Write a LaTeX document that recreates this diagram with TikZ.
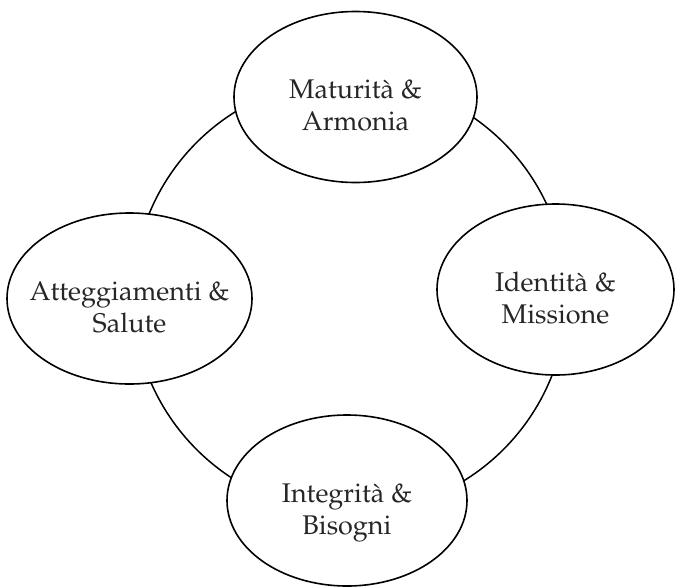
\documentclass[tikz,border=0pt]{standalone}
\usepackage[T1]{fontenc}
\usepackage{mathpazo}
\usetikzlibrary{shapes.geometric}

\tikzset{
	phasetext/.style={align=center, text=black!85, font=\fontsize{27}{31.7}\selectfont, yshift=-11.5pt},
	phase/.style={draw, ellipse, fill=white, line width=1.6pt, inner sep=0pt,
		minimum width=243pt, minimum height=171pt,
		label={[phasetext]center:\strut#1\strut}},
	ring/.style={line width=1.5pt},
}

\begin{document}
\begin{tikzpicture}[x=1pt, y=-1pt]
		\useasboundingbox (0, 0) rectangle (675, 587);

		% the ring goes first, the ellipses cover it
		\draw[ring] (350, 296) circle[radius=217pt];

		\node[phase={Maturità \&\\Armonia}] (maturita) at (355.5, 97) {};
		\node[phase={Identità \&\\Missione}, minimum width=237pt] (identita) at (555.5, 289.5) {};
		\node[phase={Integrità \&\\Bisogni}, minimum width=240pt] (integrita) at (347, 500.5) {};
		\node[phase={Atteggiamenti \&\\Salute}, minimum width=245pt] (atteggiamenti) at (129.5, 298.5) {};
	\end{tikzpicture}
\end{document}
